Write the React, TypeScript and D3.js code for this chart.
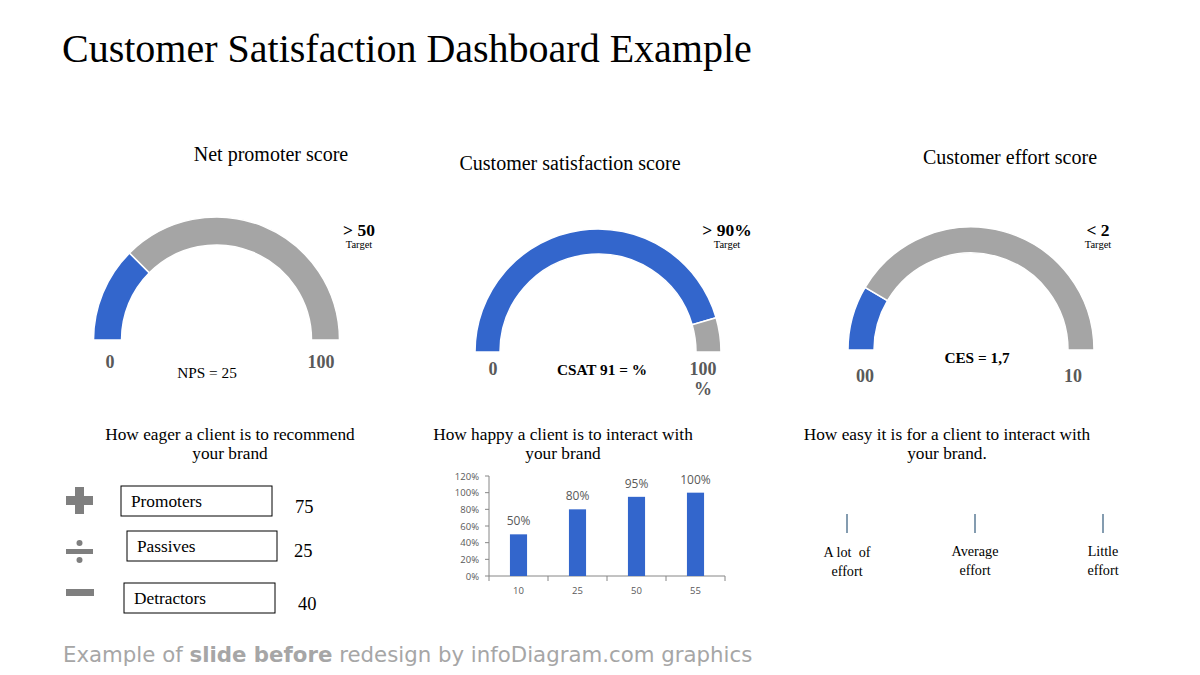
import React from 'react';
import * as d3 from 'd3';

// gauges: title, value, scale max, target text, end labels, readout
const gaugeTitles = ['Net promoter score', 'Customer satisfaction score', 'Customer effort score'];
const gaugeValues = [25, 91, 1.7];
const gaugeMax = [100, 100, 10];
const gaugeTargets = ['> 50', '> 90%', '< 2'];
const gaugeMinLabels = ['0', '0', '00'];
const gaugeMaxLabels = ['100', '100', '10'];
const gaugeReadouts = ['NPS = 25', 'CSAT 91 = %', 'CES = 1,7'];

// NPS breakdown
const npsGroups = ['Promoters', 'Passives', 'Detractors'];
const npsCounts = [75, 25, 40];

// CSAT bars
const csatCategories = ['10', '25', '50', '55'];
const csatValues = [0.5, 0.8, 0.95, 1.0];
const csatTicks = [0, 0.2, 0.4, 0.6, 0.8, 1.0, 1.2];

// CES scale
const effortLabels = [['A lot  of', 'effort'], ['Average', 'effort'], ['Little', 'effort']];

const BLUE = '#3366cc';
const GREY = '#a5a5a5';
const SERIF = '"Liberation Serif", "Times New Roman", serif';
const SANS = '"Open Sans", "Liberation Sans", sans-serif';

const gaugeLayout = [
  { cx: 216.5, cy: 340, r: 123, w: 28, titleX: 271, titleY: 161, tgtX: 359, minX: 110, maxX: 321, labY: 368, readX: 207, readY: 378, readBold: false },
  { cx: 598, cy: 352, r: 123, w: 25, titleX: 570, titleY: 170, tgtX: 727, minX: 493, maxX: 703, labY: 375, readX: 602, readY: 375, readBold: true },
  { cx: 971, cy: 350, r: 123, w: 26, titleX: 1010, titleY: 164, tgtX: 1098, minX: 865, maxX: 1073, labY: 382, readX: 977, readY: 363, readBold: true },
];

const Gauge = ({ i }: { i: number }) => {
  const g = gaugeLayout[i];
  const angle = d3.scaleLinear().domain([0, gaugeMax[i]]).range([-Math.PI / 2, Math.PI / 2]);
  const arc = d3.arc<any>().innerRadius(g.r - g.w).outerRadius(g.r);
  const v = gaugeValues[i];
  return (
    <g>
      <text x={g.titleX} y={g.titleY} textAnchor="middle" fontFamily={SERIF} fontSize={20}>{gaugeTitles[i]}</text>
      <g transform={`translate(${g.cx},${g.cy})`}>
        <path d={arc({ startAngle: angle(0), endAngle: angle(v) }) as string} fill={BLUE} stroke="#fff" strokeWidth={1.5} />
        <path d={arc({ startAngle: angle(v), endAngle: angle(gaugeMax[i]) }) as string} fill={GREY} stroke="#fff" strokeWidth={1.5} />
      </g>
      <text x={g.tgtX} y={236} textAnchor="middle" fontFamily={SERIF} fontSize={17.5} fontWeight="bold">{gaugeTargets[i]}</text>
      <text x={g.tgtX} y={248} textAnchor="middle" fontFamily={SERIF} fontSize={10.5}>Target</text>
      <text x={g.minX} y={g.labY} textAnchor="middle" fontFamily={SERIF} fontSize={18} fontWeight="bold" fill="#595959">{gaugeMinLabels[i]}</text>
      <text x={g.maxX} y={g.labY} textAnchor="middle" fontFamily={SERIF} fontSize={18} fontWeight="bold" fill="#595959">{gaugeMaxLabels[i]}</text>
      {i === 1 && (
        <text x={g.maxX} y={g.labY + 20} textAnchor="middle" fontFamily={SERIF} fontSize={18} fontWeight="bold" fill="#595959">%</text>
      )}
      <text x={g.readX} y={g.readY} textAnchor="middle" fontFamily={SERIF} fontSize={15.3} fontWeight={g.readBold ? 'bold' : 'normal'}>{gaugeReadouts[i]}</text>
    </g>
  );
};

const NpsBlock = () => {
  const boxes = [
    { x: 121, y: 486, w: 151 },
    { x: 127, y: 531, w: 150 },
    { x: 124, y: 583, w: 151 },
  ];
  const valueX = [295, 294, 298];
  const valueY = [513, 557, 610];
  const ic = '#7f7f7f';
  return (
    <g fontFamily={SERIF}>
      <text x={230} y={440} textAnchor="middle" fontSize={17.3}>How eager a client is to recommend</text>
      <text x={230} y={459} textAnchor="middle" fontSize={17.3}>your brand</text>
      {/* plus */}
      <rect x={66} y={496} width={27} height={9} fill={ic} />
      <rect x={75} y={487} width={9} height={27} fill={ic} />
      {/* divide */}
      <rect x={66} y={549} width={27} height={5} fill={ic} />
      <circle cx={79.5} cy={543} r={3} fill={ic} />
      <circle cx={79.5} cy={560} r={3} fill={ic} />
      {/* minus */}
      <rect x={66} y={589} width={28} height={7} fill={ic} />
      {npsGroups.map((name, i) => (
        <g key={name}>
          <rect x={boxes[i].x} y={boxes[i].y} width={boxes[i].w} height={30} fill="#fff" stroke="#000" strokeWidth={1} />
          <text x={boxes[i].x + 10} y={boxes[i].y + 21} fontSize={17.3}>{name}</text>
          <text x={valueX[i]} y={valueY[i]} fontSize={18.5}>{npsCounts[i]}</text>
        </g>
      ))}
    </g>
  );
};

const CsatBars = () => {
  const x = d3.scaleBand().domain(csatCategories).range([489, 725]);
  const y = d3.scaleLinear().domain([0, 1.2]).range([576, 476]);
  const barW = x.bandwidth() * 0.29;
  const pct = d3.format('.0%');
  return (
    <g>
      <text x={563} y={440} textAnchor="middle" fontFamily={SERIF} fontSize={17.3}>How happy a client is to interact with</text>
      <text x={563} y={459} textAnchor="middle" fontFamily={SERIF} fontSize={17.3}>your brand</text>
      <line x1={489} x2={489} y1={y(1.2)} y2={y(0)} stroke="#868686" />
      {csatTicks.map((t) => (
        <g key={t}>
          <line x1={485} x2={489} y1={y(t)} y2={y(t)} stroke="#868686" />
          <text x={479} y={y(t) + 3.5} textAnchor="end" fontFamily={SANS} fontSize={9.5} fill="#595959">{pct(t)}</text>
        </g>
      ))}
      <line x1={489} x2={725} y1={y(0)} y2={y(0)} stroke="#868686" />
      {csatCategories.map((c, i) => (
        <g key={c}>
          <line x1={(x(c) as number) + x.bandwidth()} x2={(x(c) as number) + x.bandwidth()} y1={y(0)} y2={y(0) + 5} stroke="#868686" />
          <rect x={(x(c) as number) + (x.bandwidth() - barW) / 2} y={y(csatValues[i])} width={barW} height={y(0) - y(csatValues[i])} fill={BLUE} />
          <text x={(x(c) as number) + x.bandwidth() / 2} y={y(csatValues[i]) - 9} textAnchor="middle" fontFamily={SANS} fontSize={12} fill="#595959">{pct(csatValues[i])}</text>
          <text x={(x(c) as number) + x.bandwidth() / 2} y={594} textAnchor="middle" fontFamily={SANS} fontSize={9.5} fill="#595959">{c}</text>
        </g>
      ))}
      <line x1={489} x2={489} y1={y(0)} y2={y(0) + 5} stroke="#868686" />
    </g>
  );
};

const EffortScale = () => {
  const x = d3.scalePoint().domain(effortLabels.map((d) => d[0])).range([847, 1103]);
  return (
    <g fontFamily={SERIF}>
      <text x={947} y={440} textAnchor="middle" fontSize={17.3}>How easy it is for a client to interact with</text>
      <text x={947} y={459} textAnchor="middle" fontSize={17.3}>your brand.</text>
      {effortLabels.map((l, i) => {
        const px = x(l[0]) as number;
        return (
          <g key={l[0]}>
            <line x1={px} x2={px} y1={514} y2={533} stroke="#5b7b96" strokeWidth={1.5} />
            <text x={px} y={i === 0 ? 557 : 556} textAnchor="middle" fontSize={14.2} style={{ whiteSpace: 'pre' }}>{l[0]}</text>
            <text x={px} y={i === 0 ? 576 : 575} textAnchor="middle" fontSize={14.2}>{l[1]}</text>
          </g>
        );
      })}
    </g>
  );
};

export default function App() {
  return (
    <div style={{ position: 'absolute', left: 0, top: 0 }}>
      <svg width={1200} height={675} style={{ display: 'block', background: '#fff' }}>
        <text x={62} y={62} fontFamily={SERIF} fontSize={40}>Customer Satisfaction Dashboard Example</text>
        {gaugeTitles.map((_, i) => <Gauge key={i} i={i} />)}
        <NpsBlock />
        <CsatBars />
        <EffortScale />
        <text x={63} y={662} fontFamily='"DejaVu Sans", sans-serif' fontSize={21.3} fill="#a6a6a6">
          Example of <tspan fontWeight="bold">slide before</tspan> redesign by infoDiagram.com graphics
        </text>
      </svg>
    </div>
  );
}
